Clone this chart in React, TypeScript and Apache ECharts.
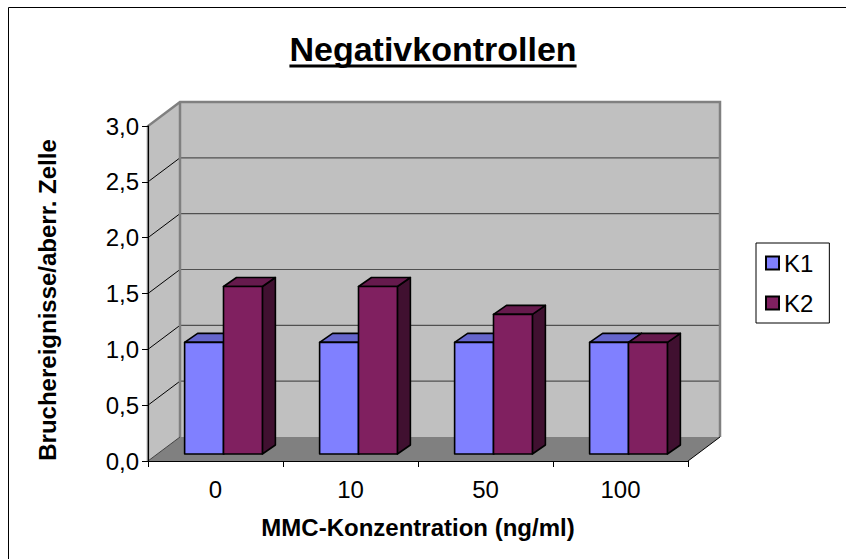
import React, { useEffect, useRef } from "react";
import * as echarts from "echarts";

const categories = ["0", "10", "50", "100"];
const k1Values = [1.0, 1.0, 1.0, 1.0];
const k2Values = [1.5, 1.5, 1.25, 1.0];
const yTickValues = [0, 0.5, 1, 1.5, 2, 2.5, 3];
const seriesNames = ["K1", "K2"];
const titleText = "Negativkontrollen";
const xTitle = "MMC-Konzentration (ng/ml)";
const yTitle = "Bruchereignisse/aberr. Zelle";

const FONT = "'Liberation Sans', Arial, sans-serif";
const WALL_DX = 32;
const WALL_DY = -24;
const BAR_OX = 8;
const BAR_OY = -7;
const BAR_DX = 13;
const BAR_DY = -9;

const faceColors = [
  { front: "#8080FF", top: "#6666CC", side: "#4D4D99" },
  { front: "#802060", top: "#661A4D", side: "#401030" },
];

function renderWalls(params: any, api: any) {
  const cs = params.coordSys;
  const x0 = cs.x;
  const x1 = cs.x + cs.width;
  const yTop = api.coord([0, yTickValues[yTickValues.length - 1]])[1];
  const y0 = api.coord([0, 0])[1];
  const children: any[] = [];
  children.push({
    type: "polygon",
    shape: { points: [[x0 + WALL_DX, yTop + WALL_DY], [x1 + WALL_DX, yTop + WALL_DY], [x1 + WALL_DX, y0 + WALL_DY], [x0 + WALL_DX, y0 + WALL_DY]] },
    style: { fill: "#C0C0C0" },
  });
  children.push({
    type: "polygon",
    shape: { points: [[x0, yTop], [x0 + WALL_DX, yTop + WALL_DY], [x0 + WALL_DX, y0 + WALL_DY], [x0, y0]] },
    style: { fill: "#C0C0C0" },
  });
  children.push({
    type: "polygon",
    shape: { points: [[x0, y0], [x0 + WALL_DX, y0 + WALL_DY], [x1 + WALL_DX, y0 + WALL_DY], [x1, y0]] },
    style: { fill: "#808080" },
  });
  yTickValues.forEach((v) => {
    if (v === 0 || v === yTickValues[yTickValues.length - 1]) return;
    const y = api.coord([0, v])[1];
    children.push({
      type: "line",
      shape: { x1: x0 + WALL_DX, y1: y + WALL_DY, x2: x1 + WALL_DX, y2: y + WALL_DY },
      style: { stroke: "#505050", lineWidth: 1.2 },
    });
    children.push({
      type: "line",
      shape: { x1: x0, y1: y, x2: x0 + WALL_DX, y2: y + WALL_DY },
      style: { stroke: "#000", lineWidth: 1 },
    });
  });
  children.push({
    type: "polyline",
    shape: { points: [[x0, y0], [x0, yTop], [x0 + WALL_DX, yTop + WALL_DY], [x1 + WALL_DX, yTop + WALL_DY], [x1 + WALL_DX, y0 + WALL_DY]] },
    style: { stroke: "#808080", lineWidth: 2.5, fill: null },
  });
  children.push({
    type: "line",
    shape: { x1: x0 + WALL_DX, y1: yTop + WALL_DY, x2: x0 + WALL_DX, y2: y0 + WALL_DY },
    style: { stroke: "#808080", lineWidth: 2.5 },
  });
  children.push({
    type: "line",
    shape: { x1: x1, y1: y0, x2: x1 + WALL_DX, y2: y0 + WALL_DY },
    style: { stroke: "#000", lineWidth: 1 },
  });
  children.push({
    type: "line",
    shape: { x1: x0, y1: y0, x2: x0 + WALL_DX, y2: y0 + WALL_DY },
    style: { stroke: "#404040", lineWidth: 1 },
  });
  return { type: "group", children };
}

function makeBarRenderer(si: number) {
  return (params: any, api: any) => {
    const idx = api.value(0);
    const v = api.value(1);
    const top = api.coord([idx, v]);
    const bot = api.coord([idx, 0]);
    const band = api.size([1, 0])[0];
    const w = band * 0.288;
    const L = (si === 0 ? top[0] - w : top[0]) + BAR_OX;
    const R = L + w;
    const T = top[1] + BAR_OY;
    const B = bot[1] + BAR_OY;
    const c = faceColors[si];
    const st = { stroke: "#000", lineWidth: 1.6, lineJoin: "round" };
    return {
      type: "group",
      children: [
        {
          type: "polygon",
          shape: { points: [[R, T], [R + BAR_DX, T + BAR_DY], [R + BAR_DX, B + BAR_DY], [R, B]] },
          style: { fill: c.side, ...st },
        },
        {
          type: "polygon",
          shape: { points: [[L, T], [L + BAR_DX, T + BAR_DY], [R + BAR_DX, T + BAR_DY], [R, T]] },
          style: { fill: c.top, ...st },
        },
        {
          type: "rect",
          shape: { x: L, y: T, width: w, height: B - T },
          style: { fill: c.front, ...st },
        },
      ],
    };
  };
}

function measure(text: string, font: string) {
  const ctx = document.createElement("canvas").getContext("2d");
  if (!ctx) return text.length * 18;
  ctx.font = font;
  return ctx.measureText(text).width;
}

export default function App() {
  const ref = useRef<HTMLDivElement>(null);
  useEffect(() => {
    document.body.style.margin = "0";
    if (!ref.current) return;
    const chart = echarts.init(ref.current, undefined, { renderer: "svg" });
    const titleSize = 34;
    const titleW = measure(titleText, `bold ${titleSize}px ${FONT}`);
    const titleCx = 433;
    const titleCy = 49;
    chart.setOption({
      animation: false,
      backgroundColor: "#fff",
      grid: { left: 148, top: 126, width: 540, height: 335, containLabel: false },
      xAxis: {
        type: "category",
        data: categories,
        z: 10,
        axisLine: { show: true, lineStyle: { color: "#000", width: 1 } },
        axisTick: { show: true, length: 6, lineStyle: { color: "#000" } },
        axisLabel: { fontSize: 24, fontFamily: FONT, color: "#000", margin: 16 },
        splitLine: { show: false },
      },
      yAxis: {
        type: "value",
        min: 0,
        max: 3,
        interval: 0.5,
        z: 10,
        axisLine: { show: true, lineStyle: { color: "#000", width: 1 } },
        axisTick: { show: true, length: 6, lineStyle: { color: "#000" } },
        axisLabel: {
          fontSize: 24,
          fontFamily: FONT,
          color: "#000",
          margin: 9,
          formatter: (v: number) => v.toFixed(1).replace(".", ","),
        },
        splitLine: { show: false },
      },
      legend: {
        data: seriesNames,
        orient: "vertical",
        left: 756,
        top: 243,
        icon: "rect",
        itemWidth: 13,
        itemHeight: 13,
        itemGap: 16,
        padding: [8, 16, 8, 9],
        borderColor: "#000",
        borderWidth: 1,
        backgroundColor: "#fff",
        textStyle: { fontSize: 24, fontFamily: FONT, color: "#000" },
      },
      graphic: [
        {
          type: "rect",
          shape: { x: 8.5, y: 7.5, width: 900, height: 600 },
          style: { fill: null, stroke: "#000", lineWidth: 1 },
          silent: true,
        },
        {
          type: "text",
          x: titleCx,
          y: titleCy,
          style: {
            text: titleText,
            font: `bold ${titleSize}px ${FONT}`,
            fill: "#000",
            align: "center",
            verticalAlign: "middle",
          },
        },
        {
          type: "line",
          shape: { x1: titleCx - titleW / 2, y1: titleCy + 17, x2: titleCx + titleW / 2, y2: titleCy + 17 },
          style: { stroke: "#000", lineWidth: 3 },
        },
        {
          type: "text",
          x: 418,
          y: 527,
          style: {
            text: xTitle,
            font: `bold 24px ${FONT}`,
            fill: "#000",
            align: "center",
            verticalAlign: "middle",
          },
        },
        {
          type: "text",
          x: 47,
          y: 300,
          rotation: Math.PI / 2,
          style: {
            text: yTitle,
            font: `bold 24px ${FONT}`,
            fill: "#000",
            align: "center",
            verticalAlign: "middle",
          },
        },
      ],
      series: [
        {
          type: "custom",
          name: "walls",
          renderItem: renderWalls,
          data: [[0, 0]],
          encode: { x: 0, y: 1 },
          silent: true,
          clip: false,
          z: 1,
        },
        {
          type: "custom",
          name: seriesNames[0],
          renderItem: makeBarRenderer(0),
          data: k1Values.map((v, i) => [i, v]),
          encode: { x: 0, y: 1 },
          itemStyle: { color: faceColors[0].front, borderColor: "#000", borderWidth: 1.5 },
          clip: false,
          z: 2,
        },
        {
          type: "custom",
          name: seriesNames[1],
          renderItem: makeBarRenderer(1),
          data: k2Values.map((v, i) => [i, v]),
          encode: { x: 0, y: 1 },
          itemStyle: { color: faceColors[1].front, borderColor: "#000", borderWidth: 1.5 },
          clip: false,
          z: 3,
        },
      ],
    });
    return () => chart.dispose();
  }, []);
  return <div ref={ref} style={{ width: 846, height: 559 }} />;
}
